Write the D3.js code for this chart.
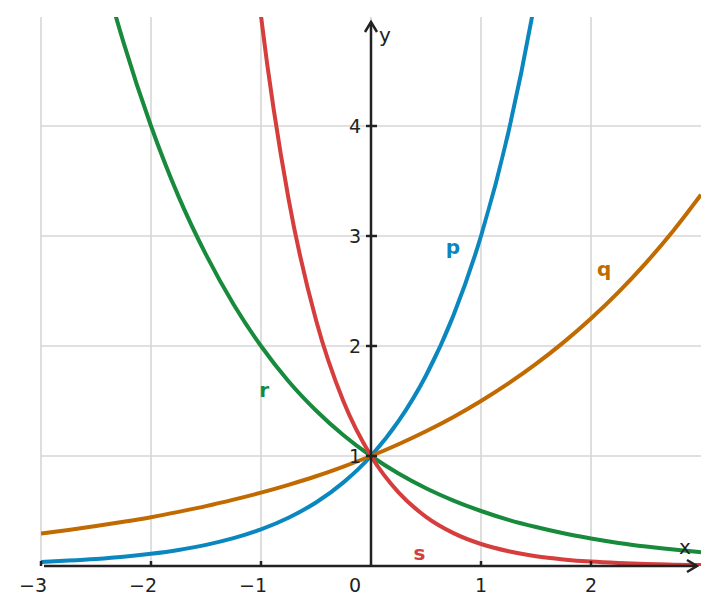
<!DOCTYPE html>
<html>
<head>
<meta charset="utf-8">
<script src="https://cdn.jsdelivr.net/npm/d3@7"></script>
<style>
  body { margin: 0; background: #fff; }
  text { font-family: "DejaVu Sans", sans-serif; }
</style>
</head>
<body>
<div id="chart"></div>
<script>
// sample x positions (read at quarter steps)
const xs = [-3, -2.75, -2.5, -2.25, -2, -1.75, -1.5, -1.25, -1, -0.75, -0.5, -0.25,
            0, 0.25, 0.5, 0.75, 1, 1.25, 1.5, 1.75, 2, 2.25, 2.5, 2.75, 3];

// values (null = beyond the shown range)
const pVals = [0.037, 0.049, 0.064, 0.084, 0.111, 0.146, 0.192, 0.253, 0.333, 0.439, 0.577, 0.760,
               1, 1.316, 1.732, 2.280, 3, 3.948, 5.196, 6.84, null, null, null, null, null];
const qVals = [0.296, 0.328, 0.363, 0.402, 0.444, 0.492, 0.544, 0.603, 0.667, 0.738, 0.816, 0.904,
               1, 1.107, 1.225, 1.355, 1.5, 1.660, 1.837, 2.033, 2.25, 2.490, 2.756, 3.050, 3.375];
const rVals = [8, 6.73, 5.66, 4.76, 4, 3.36, 2.83, 2.38, 2, 1.68, 1.414, 1.189,
               1, 0.841, 0.707, 0.595, 0.5, 0.420, 0.354, 0.297, 0.25, 0.210, 0.177, 0.149, 0.125];
const sVals = [null, null, null, null, null, null, 11.2, 7.48, 5, 3.34, 2.236, 1.495,
               1, 0.669, 0.447, 0.299, 0.2, 0.134, 0.089, 0.060, 0.04, 0.027, 0.018, 0.012, 0.008];

const xTicks = [-3, -2, -1, 0, 1, 2];
const yTicks = [1, 2, 3, 4];
const xGrid = [-3, -2, -1, 0, 1, 2];

const series = [
  { name: "p", vals: pVals, color: "#0a87bf", lx: 0.745, ly: 2.9 },
  { name: "q", vals: qVals, color: "#c06a00", lx: 2.12, ly: 2.7 },
  { name: "r", vals: rVals, color: "#178a3c", lx: -0.97, ly: 1.6 },
  { name: "s", vals: sVals, color: "#d63d3d", lx: 0.44, ly: 0.12 }
];

const W = 719, H = 615;
const x = d3.scaleLinear().domain([-3, 3]).range([41, 701]);
const y = d3.scaleLinear().domain([0, 5]).range([566, 16]);

const svg = d3.select("#chart").append("svg")
  .attr("width", W).attr("height", H);

svg.append("defs").append("clipPath").attr("id", "plot")
  .append("rect")
  .attr("x", x(-3)).attr("y", y(4.99))
  .attr("width", x(3) - x(-3)).attr("height", y(0) - y(4.99));

// grid
const grid = svg.append("g").attr("stroke", "#d6d6d6").attr("stroke-width", 1.6);
grid.selectAll("line.v").data(xGrid).join("line")
  .attr("class", "v")
  .attr("x1", d => x(d)).attr("x2", d => x(d))
  .attr("y1", y(0)).attr("y2", y(4.99));
grid.selectAll("line.h").data(yTicks).join("line")
  .attr("class", "h")
  .attr("x1", x(-3)).attr("x2", x(3))
  .attr("y1", d => y(d)).attr("y2", d => y(d));

// curves
const line = d3.line()
  .defined(d => d[1] != null)
  .x(d => x(d[0]))
  .y(d => y(d[1]))
  .curve(d3.curveMonotoneX);

const curves = svg.append("g").attr("clip-path", "url(#plot)");
series.forEach(s => {
  curves.append("path")
    .datum(xs.map((v, i) => [v, s.vals[i]]))
    .attr("d", line)
    .attr("fill", "none")
    .attr("stroke", s.color)
    .attr("stroke-width", 4);
});

// axes
const axisCol = "#222";
const ax = svg.append("g").attr("stroke", axisCol).attr("stroke-width", 2.5).attr("fill", "none");
ax.append("line").attr("x1", x(-3) + 3).attr("x2", x(3) - 4).attr("y1", y(0)).attr("y2", y(0));
ax.append("path").attr("d", `M${x(3) - 14},${y(0) - 6} L${x(3) - 4},${y(0)} L${x(3) - 14},${y(0) + 6}`)
  .attr("stroke-linejoin", "miter");
ax.append("line").attr("x1", x(0)).attr("x2", x(0)).attr("y1", y(0)).attr("y2", y(5) + 6);
ax.append("path").attr("d", `M${x(0) - 6},${y(5) + 16} L${x(0)},${y(5) + 6} L${x(0) + 6},${y(5) + 16}`);

// ticks
ax.selectAll("line.xt").data(xTicks.filter(d => d !== 0)).join("line")
  .attr("class", "xt")
  .attr("x1", d => x(d)).attr("x2", d => x(d))
  .attr("y1", y(0) - 5).attr("y2", y(0));
ax.selectAll("line.yt").data(yTicks).join("line")
  .attr("class", "yt")
  .attr("x1", x(0) - 5).attr("x2", x(0) + 6)
  .attr("y1", d => y(d)).attr("y2", d => y(d));

const fmt = d => (d < 0 ? "\u2212" + Math.abs(d) : String(d));
svg.append("g").selectAll("text").data(xTicks).join("text")
  .attr("x", d => d === 0 ? x(0) - 10 : x(d) + 6)
  .attr("y", 592)
  .attr("text-anchor", "end")
  .attr("font-size", 19)
  .attr("fill", axisCol)
  .text(fmt);
svg.append("g").selectAll("text").data(yTicks).join("text")
  .attr("x", x(0) - 10)
  .attr("y", d => y(d))
  .attr("dy", "0.36em")
  .attr("text-anchor", "end")
  .attr("font-size", 19)
  .attr("fill", axisCol)
  .text(d => d);

svg.append("text").attr("x", 379).attr("y", 42).attr("font-size", 20).attr("fill", axisCol).text("y");
svg.append("text").attr("x", 679).attr("y", 554).attr("font-size", 20).attr("fill", axisCol).text("x");

// curve labels
svg.append("g").selectAll("text").data(series).join("text")
  .attr("x", d => x(d.lx)).attr("y", d => y(d.ly))
  .attr("dy", "0.36em")
  .attr("text-anchor", "middle")
  .attr("font-size", 20)
  .attr("font-weight", "bold")
  .attr("fill", d => d.color)
  .text(d => d.name);
</script>
</body>
</html>
